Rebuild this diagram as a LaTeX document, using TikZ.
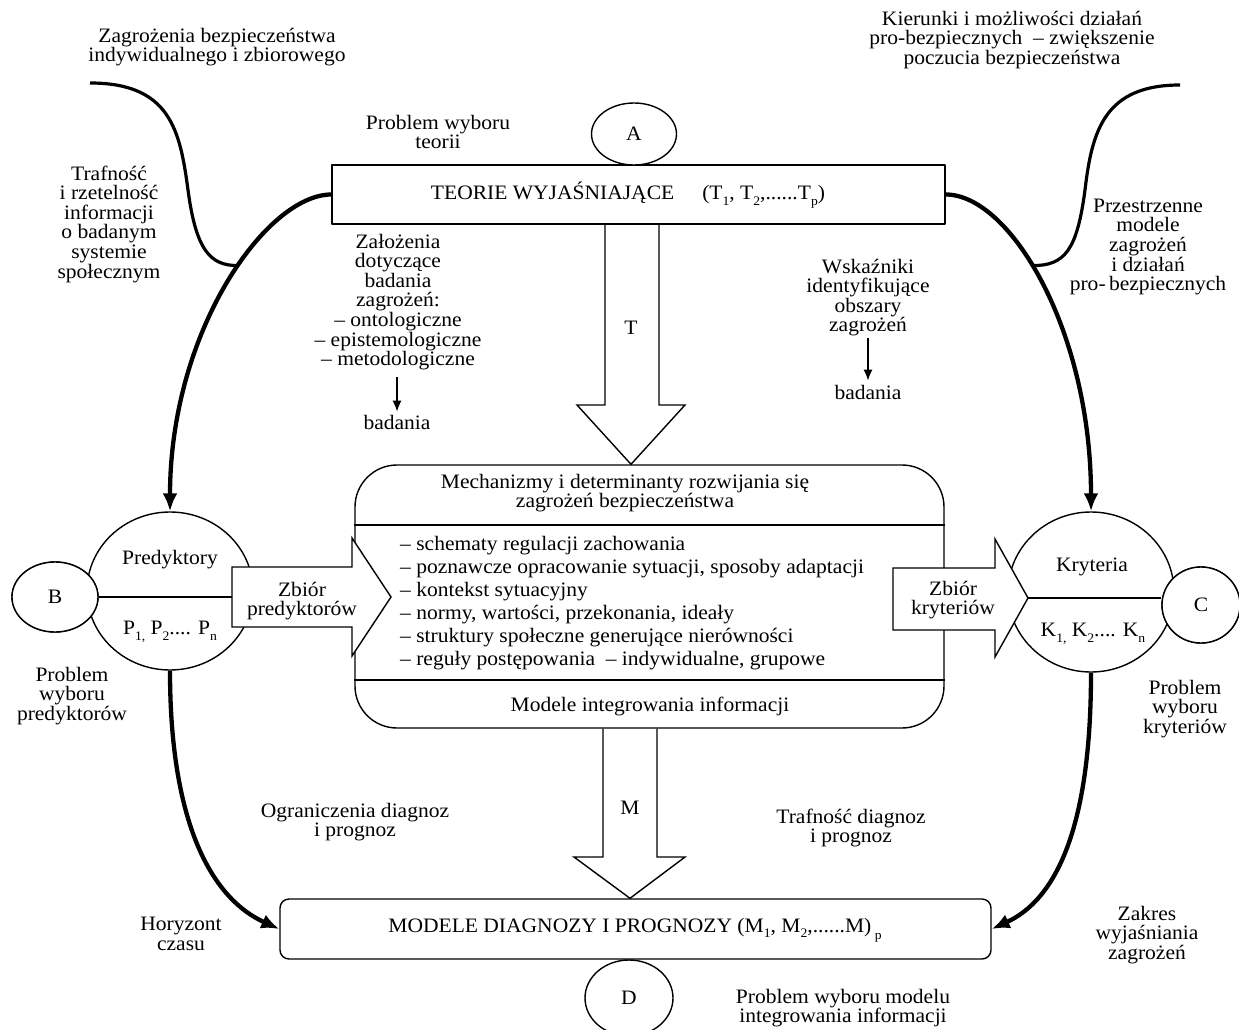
\documentclass[tikz,border=0pt]{standalone}
\usepackage{fontspec}
\setmainfont{Liberation Serif}[FakeStretch=1.05]
\usetikzlibrary{arrows.meta,shapes.geometric}
\newcommand\lowidx[1]{\raisebox{-0.28em}{\fontsize{13}{13}\selectfont #1}}
\begin{document}
\begin{tikzpicture}[x=1pt,y=-1pt,line join=round,
  txt/.style={align=center,inner sep=0pt,
    font=\fontsize{20.5}{19.6}\selectfont\setlength\lineskiplimit{-30pt}},
  box/.style={draw,line width=1.4pt,fill=white,inner sep=0pt},
  oval/.style={box,ellipse,font=\fontsize{20.5}{19.6}\selectfont},
  flow/.style={line width=4.3pt,-{Latex[length=18pt,width=15pt]}},
  link/.style={line width=3.2pt},
  rule/.style={line width=1.4pt},
  blk/.style={draw,line width=1.4pt,fill=white,line join=miter},
  hollow/.style={draw,line width=1.4pt,line join=miter},
  small/.style={line width=1.3pt,-{Latex[length=11pt,width=9pt]}}]
\useasboundingbox (0,0) rectangle (1239,1030);
\fill[white] (0,0) rectangle (1239,1030);
\clip (0,0) rectangle (1239,1030);

% main blocks
\node[box,minimum width=613pt,minimum height=59pt] (teorie) at (638.5,194.5) {};
\node[box,rounded corners=42pt,minimum width=589pt,minimum height=263pt] (mech) at (649.5,596.5) {};
\node[box,rounded corners=9pt,minimum width=711pt,minimum height=60pt] (modele) at (635.5,929) {};
\node[oval,minimum width=166pt,minimum height=158pt] (pred) at (170,591) {};
\node[oval,minimum width=166pt,minimum height=160pt] (kryt) at (1091,592) {};

% section rules inside the mechanism block
\draw[rule] (mech.west |- 0,525) -- (mech.east |- 0,525);
\draw[rule] (mech.west |- 0,680) -- (mech.east |- 0,680);

% thick flow curves
\draw[flow] (teorie.west) .. controls (267,194.5) and (170,330) .. (pred.north)
  coordinate[pos=0.44] (jl);
\draw[flow] (teorie.east) .. controls (1010,194.5) and (1091,330) .. (kryt.north)
  coordinate[pos=0.44] (jr);
\draw[flow] (pred.south) .. controls (170,830) and (215,900) .. (modele.west);
\draw[flow] (kryt.south) .. controls (1091,830) and (1055,900) .. (modele.east);

% side inputs joining the upper curves
\coordinate (sl) at (90,83);
\coordinate (sr) at (1180,85);
\draw[link] (sl) .. controls (170,83) and (180,130) .. (188,190)
  .. controls (196,250) and (210,266) .. (jl);
\draw[link] (sr) .. controls (1105,85) and (1092,130) .. (1085,190)
  .. controls (1077,250) and (1065,266) .. (jr);

% dividers of the two ovals
\node[oval,minimum width=86pt,minimum height=70pt] (B) at (55,597) {};
\node[oval,minimum width=78pt,minimum height=76pt] (C) at (1201,605) {};
\draw[rule] (B.east) -- (232,597);
\draw[rule] (1028,598) -- (C.west |- 0,598);
\node[oval,minimum width=86pt,minimum height=70pt] (B) at (55,597) {B};
\node[oval,minimum width=78pt,minimum height=76pt] (C) at (1201,605) {C};
\node[oval,minimum width=85pt,minimum height=62pt] (A) at (634,134) {A};
\node[oval,minimum width=88pt,minimum height=76pt] (D) at (629,998) {D};

% block arrows
\draw[blk] (232,567) -- (352,567) -- (352,538) -- (391,597) -- (352,656)
  -- (352,627) -- (232,627) -- cycle;
\draw[blk] (893,568) -- (995,568) -- (995,539) -- (1028,598) -- (995,657)
  -- (995,630) -- (893,630) -- cycle;
\draw[hollow] (605,0 |- teorie.south) -- (605,405) -- (577,405)
  -- (631,0 |- mech.north) -- (685,405) -- (659,405) -- (659,0 |- teorie.south);
\draw[hollow] (603,0 |- mech.south) -- (603,857) -- (574,857)
  -- (630,0 |- modele.north) -- (685,857) -- (657,857) -- (657,0 |- mech.south);

% texts
\node[txt] (t1) at (217,47) {Zagrożenia bezpieczeństwa\\indywidualnego i zbiorowego};
\node[txt] (t2) at (1012,40) {Kierunki i możliwości działań\\pro-bezpiecznych~ – zwiększenie\\poczucia bezpieczeństwa};
\node[txt] (t3) at (109,224) {Trafność\\i rzetelność\\informacji\\o badanym\\systemie\\społecznym};
\node[txt] (t4) at (1148,247) {Przestrzenne\\modele\\zagrożeń\\i działań\\pro-\,bezpiecznych};
\node[txt] (t5) at (438,132) {Problem wyboru\\teorii};
\node[txt] (teorietxt) at (628,195) {TEORIE WYJAŚNIAJĄCE\hspace{28pt}(T\lowidx{1}, T\lowidx{2},......T\lowidx{p})};

\node[txt] (zal) at (398,302) {Założenia\\dotyczące\\badania\\zagrożeń:\\– ontologiczne\\– epistemologiczne\\– metodologiczne};
\node[txt] (bad1) at (397,422) {badania};
\draw[small] (bad1.north |- zal.south) ++(0,7) -- ([yshift=3pt]bad1.north);
\node[txt] (wsk) at (868,297.5) {Wskaźniki\\identyfikujące\\obszary\\zagrożeń};
\node[txt] (bad2) at (868,392) {badania};
\draw[small] ([yshift=-2pt]wsk.south) -- ([yshift=4pt]bad2.north);

\node[txt] (tl) at (631,328) {T};
\node[txt] (ml) at (630,808) {M};

\node[txt] (mhead) at (625,493) {Mechanizmy i determinanty rozwijania się\\zagrożeń bezpieczeństwa};
\node[txt,align=left,anchor=west,font=\fontsize{20.5}{23}\selectfont] (mlist) at (400,603)
  {– schematy regulacji zachowania\\
   – poznawcze opracowanie sytuacji, sposoby adaptacji\\
   – kontekst sytuacyjny\\
   – normy, wartości, przekonania, ideały\\
   – struktury społeczne generujące nierówności\\
   – reguły postępowania~ – indywidualne, grupowe};
\node[txt] (mfoot) at (650,706) {Modele integrowania informacji};

\node[txt] (predt) at (170,560) {Predyktory};
\node[txt] (predp) at (170,632) {P\lowidx{1,} P\lowidx{2}.... P\lowidx{n}};
\node[txt] (krytt) at (1092,567) {Kryteria};
\node[txt] (krytk) at (1093,634) {K\lowidx{1,} K\lowidx{2}.... K\lowidx{n}};
\node[txt] (zpt) at (302,601) {Zbiór\\predyktorów};
\node[txt] (zkt) at (953,600) {Zbiór\\kryteriów};

\node[txt] (pwp) at (72,696) {Problem\\wyboru\\predyktorów};
\node[txt] (pwk) at (1185,709) {Problem\\wyboru\\kryteriów};
\node[txt] (ogr) at (355,822) {Ograniczenia diagnoz\\i prognoz};
\node[txt] (traf) at (851,828) {Trafność diagnoz\\i prognoz};
\node[txt] (hor) at (181,934) {Horyzont\\czasu};
\node[txt] (zak) at (1147,935) {Zakres\\wyjaśniania\\zagrożeń};
\node[txt] (pwm) at (843,1008) {Problem wyboru modelu\\integrowania informacji};
\node[txt] (modtxt) at (635,930) {MODELE DIAGNOZY I PROGNOZY (M\lowidx{1}, M\lowidx{2},......M)\,\raisebox{-0.35em}{\fontsize{13}{13}\selectfont p}};
\end{tikzpicture}
\end{document}
